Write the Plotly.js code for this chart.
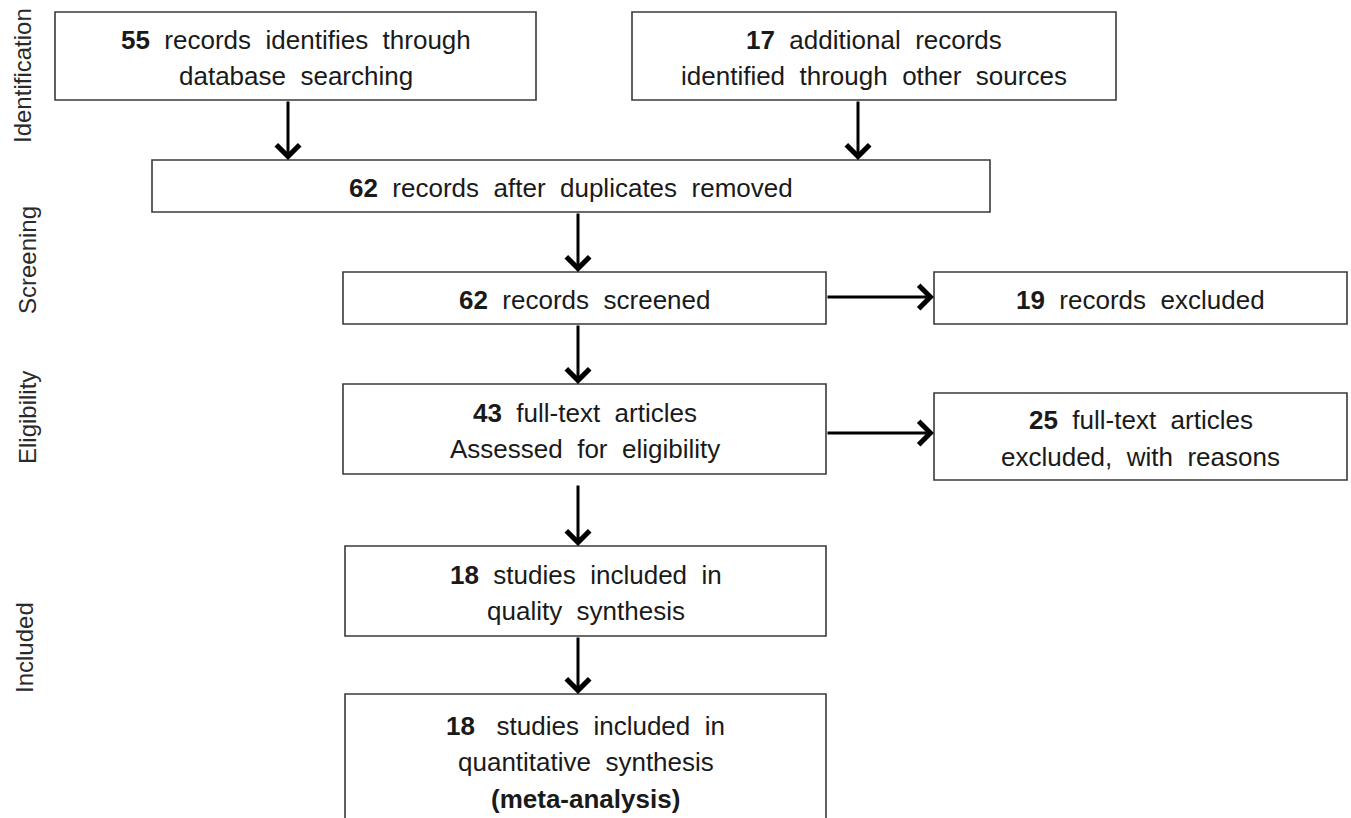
<!DOCTYPE html>
<html>
<head>
<meta charset="utf-8">
<script src="https://cdn.plot.ly/plotly-3.0.1.min.js"></script>
<style>html,body{margin:0;padding:0;background:#fff;}#chart{width:1351px;height:818px;}</style>
</head>
<body>
<div id="chart"></div>
<script>
// ---- Data ----
const stages = ["Identification", "Screening", "Eligibility", "Included"];
const counts = [55, 17, 62, 62, 19, 43, 25, 18, 18];
const boxLines = [
  ["{n}  records  identifies  through", "database  searching"],
  ["{n}  additional  records", "identified  through  other  sources"],
  ["{n}  records  after  duplicates  removed"],
  ["{n}  records  screened"],
  ["{n}  records  excluded"],
  ["{n}  full-text  articles", "Assessed  for  eligibility"],
  ["{n}  full-text  articles", "excluded,  with  reasons"],
  ["{n}  studies  included  in", "quality  synthesis"],
  ["{n}   studies  included  in", "quantitative  synthesis", "<b>(meta-analysis)</b>"]
];
// flow links: from box index -> to box index
const links = [[0, 2], [1, 2], [2, 3], [3, 4], [3, 5], [5, 6], [5, 7], [7, 8]];

// ---- Layout geometry (pixels in a 1351 x 818 frame) ----
const geom = {
  boxes: [
    [55, 536, 12, 100],
    [632, 1116, 12, 100],
    [152, 990, 160, 212],
    [343, 826, 272, 324],
    [934, 1347, 272, 324],
    [343, 826, 384, 474],
    [934, 1347, 393, 480],
    [345, 826, 546, 636],
    [345, 826, 694, 826]
  ],
  stageLabel: [[22, 76], [27, 260], [27, 418], [24, 648]],
  lineGap: 36.5,
  textShift: 2,
  mainX: 578,
  headX: {0: 288, 1: 858},
  sideY: {3: 297, 5: 433}
};

const shapes = [];
const annotations = [];
const txtColor = "#1a1a1a";
const fontFam = "'Liberation Sans', Arial, sans-serif";

geom.boxes.forEach((b, i) => {
  shapes.push({type: "rect", xref: "x", yref: "y", x0: b[0], x1: b[1], y0: b[2], y1: b[3],
    line: {color: "#3a3a3a", width: 1.6}, fillcolor: "rgba(0,0,0,0)"});
  const lines = boxLines[i];
  const cx = (b[0] + b[1]) / 2;
  const cy = (b[2] + b[3]) / 2 + geom.textShift;
  lines.forEach((ln, k) => {
    const t = ln.replace("{n}", "<b>" + counts[i] + "</b>").replace(/  /g, "\u00a0 ");
    annotations.push({x: cx, y: cy + (k - (lines.length - 1) / 2) * geom.lineGap, xref: "x", yref: "y",
      text: t, showarrow: false, xanchor: "center", yanchor: "middle",
      font: {family: fontFam, size: 26, color: txtColor}});
  });
});

// arrows
const arrowStyle = {showarrow: true, arrowhead: 4, arrowsize: 1.5, arrowwidth: 3, arrowcolor: "#000",
  text: "", axref: "x", ayref: "y", xref: "x", yref: "y", standoff: 0, startstandoff: 0};
links.forEach(l => {
  const a = geom.boxes[l[0]], b = geom.boxes[l[1]];
  if (b[0] > a[1]) {
    const y = geom.sideY[l[0]];
    annotations.push(Object.assign({}, arrowStyle, {x: b[0], y: y, ax: a[1], ay: y}));
  } else {
    const x = geom.headX[l[0]] !== undefined ? geom.headX[l[0]] : geom.mainX;
    const gap = (l[0] === 5) ? 10 : 0;
    annotations.push(Object.assign({}, arrowStyle, {x: x, y: b[2], ax: x, ay: a[3] + gap}));
  }
});

// stage labels
stages.forEach((s, i) => {
  annotations.push({x: geom.stageLabel[i][0], y: geom.stageLabel[i][1], xref: "x", yref: "y",
    text: s, showarrow: false, textangle: -90, xanchor: "center", yanchor: "middle",
    font: {family: fontFam, size: 24, color: "#2a2a2a"}});
});

const layout = {
  width: 1351, height: 818,
  margin: {l: 0, r: 0, t: 0, b: 0, pad: 0},
  paper_bgcolor: "#ffffff", plot_bgcolor: "#ffffff",
  xaxis: {range: [0, 1351], visible: false, fixedrange: true},
  yaxis: {range: [818, 0], visible: false, fixedrange: true},
  showlegend: false,
  shapes: shapes,
  annotations: annotations
};

Plotly.newPlot("chart", [{type: "scatter", x: [], y: [], mode: "markers", hoverinfo: "skip"}], layout,
  {displayModeBar: false, staticPlot: true});
</script>
</body>
</html>
